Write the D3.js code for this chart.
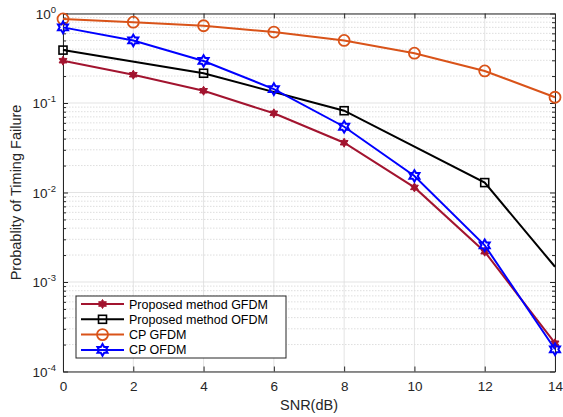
<!DOCTYPE html>
<html>
<head>
<meta charset="utf-8">
<script src="https://cdn.jsdelivr.net/npm/d3@7"></script>
<style>
  body { margin: 0; background: #fff; }
  text { font-family: "Liberation Sans", Arial, sans-serif; }
</style>
</head>
<body>
<div id="viz"></div>
<script>
const snr = [0, 2, 4, 6, 8, 10, 12, 14];
const gfdmProposed = [0.297, 0.207, 0.137, 0.0767, 0.036, 0.0114, 0.00218, 0.000207];
const ofdmProposedSnr = [0, 4, 8, 12, 14];
const ofdmProposed = [0.39, 0.215, 0.082, 0.0129, 0.00148];
const gfdmCp = [0.87, 0.80, 0.73, 0.62, 0.50, 0.36, 0.228, 0.116];
const ofdmCp = [0.70, 0.50, 0.295, 0.143, 0.0543, 0.0153, 0.00257, 0.000177];
const legendLabels = ['Proposed method GFDM', 'Proposed method OFDM', 'CP GFDM', 'CP OFDM'];
const xTicks = [0, 2, 4, 6, 8, 10, 12, 14];
const yDecades = [0, -1, -2, -3, -4];

const colorRed = '#A2142F';
const colorBlack = '#000000';
const colorOrange = '#D95319';
const colorBlue = '#0000FF';
const axisColor = '#262626';

let dimensions = {
  width: 563,
  height: 417,
  margin: { top: 13.5, right: 8, bottom: 45.5, left: 63 },
}
dimensions.boundedWidth = dimensions.width - dimensions.margin.left - dimensions.margin.right
dimensions.boundedHeight = dimensions.height - dimensions.margin.top - dimensions.margin.bottom

const svg = d3.select('#viz').append('svg')
  .attr('width', dimensions.width)
  .attr('height', dimensions.height)

const chart = svg.append('g')
  .attr('transform', `translate(${dimensions.margin.left},${dimensions.margin.top})`)

const xScale = d3.scaleLinear().domain([0, 14]).range([0, dimensions.boundedWidth])
const yScale = d3.scaleLog().domain([1e-4, 1]).range([dimensions.boundedHeight, 0])

// minor log ticks
const minorTicks = []
yDecades.slice(1).forEach(e => {
  for (let k = 2; k <= 9; k++) minorTicks.push(k * Math.pow(10, e))
})

// grid
const grid = chart.append('g')
grid.selectAll('.minor').data(minorTicks).join('line')
  .attr('x1', 0).attr('x2', dimensions.boundedWidth)
  .attr('y1', d => yScale(d)).attr('y2', d => yScale(d))
  .attr('stroke', '#c8c8c8').attr('stroke-width', 0.6)
  .attr('stroke-dasharray', '1.5,1.5')
grid.selectAll('.vmajor').data(xTicks).join('line')
  .attr('x1', d => xScale(d)).attr('x2', d => xScale(d))
  .attr('y1', 0).attr('y2', dimensions.boundedHeight)
  .attr('stroke', '#dcdcdc').attr('stroke-width', 0.8)
grid.selectAll('.hmajor').data(yDecades).join('line')
  .attr('x1', 0).attr('x2', dimensions.boundedWidth)
  .attr('y1', d => yScale(Math.pow(10, d))).attr('y2', d => yScale(Math.pow(10, d)))
  .attr('stroke', '#dcdcdc').attr('stroke-width', 0.8)

// axes (ticks inward, box on)
const xAxisBottom = chart.append('g')
  .attr('transform', `translate(0,${dimensions.boundedHeight})`)
  .call(d3.axisBottom(xScale).tickValues(xTicks).tickSizeInner(-5).tickSizeOuter(0).tickPadding(10))
const xAxisTop = chart.append('g')
  .call(d3.axisTop(xScale).tickValues(xTicks).tickSizeInner(-5).tickSizeOuter(0).tickFormat(''))
const yAxisLeft = chart.append('g')
  .call(d3.axisLeft(yScale).tickValues(yDecades.map(e => Math.pow(10, e))).tickSizeInner(-5).tickSizeOuter(0).tickFormat(''))
const yAxisRight = chart.append('g')
  .attr('transform', `translate(${dimensions.boundedWidth},0)`)
  .call(d3.axisRight(yScale).tickValues(yDecades.map(e => Math.pow(10, e))).tickSizeInner(-5).tickSizeOuter(0).tickFormat(''))
chart.append('g')
  .call(d3.axisLeft(yScale).tickValues(minorTicks).tickSizeInner(-3).tickSizeOuter(0).tickFormat(''))
  .select('.domain').remove()
chart.append('g')
  .attr('transform', `translate(${dimensions.boundedWidth},0)`)
  .call(d3.axisRight(yScale).tickValues(minorTicks).tickSizeInner(-3).tickSizeOuter(0).tickFormat(''))
  .select('.domain').remove()

chart.selectAll('.domain, .tick line').attr('stroke', axisColor).attr('stroke-width', 1)
xAxisBottom.selectAll('.tick text').attr('font-size', 13.5).attr('fill', axisColor)
  .attr('font-family', '"Liberation Sans", Arial, sans-serif')

// y tick labels with superscripts
const yLabels = chart.append('g')
yDecades.forEach(e => {
  const t = yLabels.append('text')
    .attr('x', -7).attr('y', yScale(Math.pow(10, e)) + 5)
    .attr('text-anchor', 'end').attr('font-size', 13.5).attr('fill', axisColor)
  t.append('tspan').text('10')
  t.append('tspan').attr('dy', -6).attr('font-size', 9.5).text(String(e))
})

// axis titles
svg.append('text')
  .attr('x', dimensions.margin.left + dimensions.boundedWidth / 2)
  .attr('y', 410)
  .attr('text-anchor', 'middle').attr('font-size', 14.5).attr('fill', axisColor)
  .text('SNR(dB)')
svg.append('text')
  .attr('transform', `translate(21,${dimensions.margin.top + dimensions.boundedHeight / 2}) rotate(-90)`)
  .attr('text-anchor', 'middle').attr('font-size', 14.5).attr('fill', axisColor)
  .text('Probablity of Timing Failure')

// markers
const hexagram = (size) => {
  const pts = []
  for (let i = 0; i < 12; i++) {
    const r = i % 2 === 0 ? size : size * 0.577
    const a = -Math.PI / 2 + i * Math.PI / 6
    pts.push([r * Math.cos(a), r * Math.sin(a)])
  }
  return 'M' + pts.map(p => p.join(',')).join('L') + 'Z'
}

function drawMarker(g, type, color) {
  if (type === 'circle') {
    g.append('circle').attr('r', 5.5).attr('fill', 'none').attr('stroke', color).attr('stroke-width', 1.8)
  } else if (type === 'square') {
    g.append('rect').attr('x', -4).attr('y', -4).attr('width', 8).attr('height', 8)
      .attr('fill', 'none').attr('stroke', color).attr('stroke-width', 1.6)
  } else if (type === 'hexFilled') {
    g.append('path').attr('d', hexagram(4.5)).attr('fill', color).attr('stroke', color).attr('stroke-width', 1)
  } else if (type === 'hex') {
    g.append('path').attr('d', hexagram(5.8)).attr('fill', 'none').attr('stroke', color).attr('stroke-width', 2)
  }
}

const series = [
  { xs: snr, ys: gfdmProposed, color: colorRed, marker: 'hexFilled', markerIdx: [0, 1, 2, 3, 4, 5, 6, 7] },
  { xs: ofdmProposedSnr, ys: ofdmProposed, color: colorBlack, marker: 'square', markerIdx: [0, 1, 2, 3] },
  { xs: snr, ys: gfdmCp, color: colorOrange, marker: 'circle', markerIdx: [0, 1, 2, 3, 4, 5, 6, 7] },
  { xs: snr, ys: ofdmCp, color: colorBlue, marker: 'hex', markerIdx: [0, 1, 2, 3, 4, 5, 6, 7] },
]

const lineGen = d3.line().x(d => xScale(d[0])).y(d => yScale(d[1]))

series.forEach(s => {
  const pts = s.xs.map((x, i) => [x, s.ys[i]])
  chart.append('path')
    .attr('d', lineGen(pts))
    .attr('fill', 'none').attr('stroke', s.color).attr('stroke-width', 2)
  s.markerIdx.forEach(i => {
    const g = chart.append('g').attr('transform', `translate(${xScale(pts[i][0])},${yScale(pts[i][1])})`)
    drawMarker(g, s.marker, s.color)
  })
})

// legend
const legend = svg.append('g').attr('transform', 'translate(76,296)')
legend.append('rect').attr('width', 210).attr('height', 62)
  .attr('fill', '#fff').attr('stroke', axisColor).attr('stroke-width', 1)
series.forEach((s, i) => {
  const y = 8 + i * 15.3
  legend.append('line').attr('x1', 5).attr('x2', 48).attr('y1', y).attr('y2', y)
    .attr('stroke', s.color).attr('stroke-width', 2)
  const g = legend.append('g').attr('transform', `translate(26.5,${y})`)
  drawMarker(g, s.marker, s.color)
  legend.append('text').attr('x', 53).attr('y', y + 4.5)
    .attr('font-size', 12.5).attr('fill', '#000')
    .text(legendLabels[i])
})
</script>
</body>
</html>
